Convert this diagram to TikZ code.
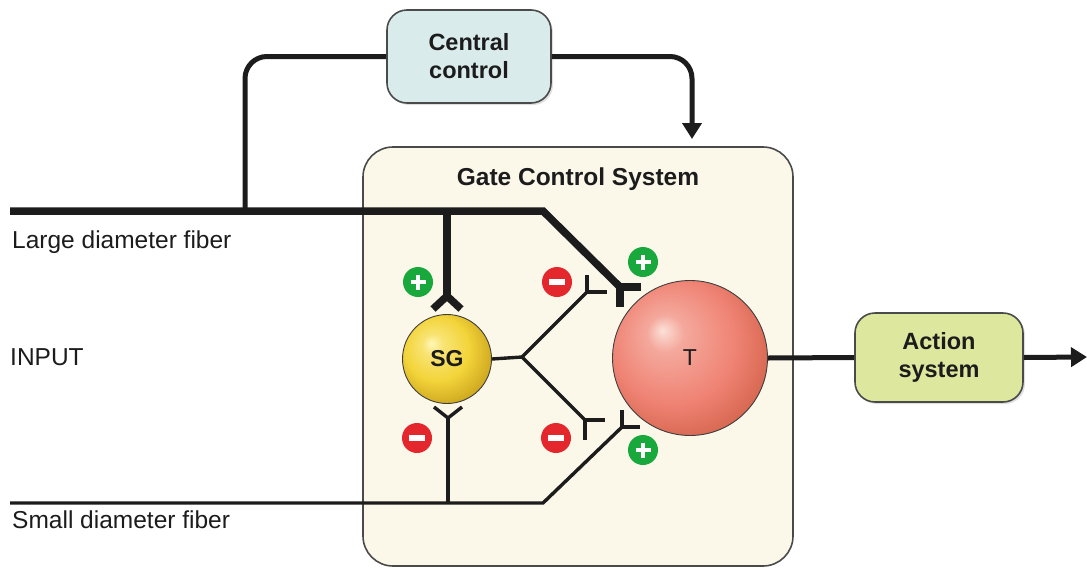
\documentclass[tikz,border=0pt]{standalone}
\usepackage{fontspec}
\setmainfont{Liberation Sans}
\usetikzlibrary{arrows.meta,shadows}

\definecolor{ink}{HTML}{1C1C1C}
\definecolor{frame}{HTML}{4A4A4A}
\definecolor{gatefill}{HTML}{FBF8EA}
\definecolor{ccfill}{HTML}{D9EBEA}
\definecolor{actfill}{HTML}{DDE89E}
\definecolor{excgreen}{HTML}{18A83C}
\definecolor{inhred}{HTML}{E3272C}
\definecolor{sghi}{HTML}{FFF7B8}
\definecolor{sgmid}{HTML}{F3D43A}
\definecolor{sgdark}{HTML}{C49C18}
\definecolor{thi}{HTML}{FCE0D8}
\definecolor{tmid}{HTML}{EF8374}
\definecolor{tdark}{HTML}{CB5A40}

% highlighted spheres for the two cell bodies
\pgfdeclareradialshading{sgball}{\pgfqpoint{-9bp}{9bp}}{%
  color(0bp)=(sghi); color(6bp)=(sghi!45!sgmid); color(18bp)=(sgmid);
  color(33bp)=(sgdark); color(50bp)=(sgdark)}
\pgfdeclareradialshading{tball}{\pgfqpoint{-9bp}{9bp}}{%
  color(0bp)=(thi); color(6bp)=(thi!40!tmid); color(20bp)=(tmid);
  color(35bp)=(tdark); color(50bp)=(tdark)}

\begin{document}
\begin{tikzpicture}[x=1pt,y=-1pt,
  thickfib/.style={draw=ink, line width=7.5pt},
  thinfib/.style={draw=ink, line width=3.4pt},
  ctrl/.style={draw=ink, line width=5pt, rounded corners=22pt},
  tip/.style={-{Triangle[length=16pt,width=19pt]}},
  roundbox/.style={draw=frame, line width=1.6pt, rounded corners=20pt,
    align=center, inner sep=0, text=ink,
    font=\fontsize{23.5}{28}\selectfont\bfseries,
    drop shadow={shadow xshift=2pt, shadow yshift=-2pt, opacity=0.25}},
  lbl/.style={font=\fontsize{24.5}{28}\selectfont, text=ink, inner sep=0, anchor=base west},
  excsign/.style={circle, fill=excgreen, minimum size=30pt, inner sep=0,
    path picture={\draw[white, line width=4.5pt]
      (path picture bounding box.center) +(-7.5,0) -- +(7.5,0)
      (path picture bounding box.center) +(0,-7.5) -- +(0,7.5);}},
  inhsign/.style={circle, fill=inhred, minimum size=30pt, inner sep=0,
    path picture={\draw[white, line width=5.5pt]
      (path picture bounding box.center) +(-8,0) -- +(8,0);}}
]
\useasboundingbox (0,0) rectangle (1087,571);

% gate control box
\node[draw=frame, fill=gatefill, line width=1.6pt, rounded corners=30pt,
      minimum width=430pt, minimum height=419pt, inner sep=0] (gate) at (578,356.5) {};
\node[font=\fontsize{24.5}{28}\selectfont\bfseries, text=ink, inner sep=0, anchor=base]
  (gatetitle) at (578,185) {Gate Control System};

% central control and action system
\node[roundbox, fill=ccfill, minimum width=164pt, minimum height=93pt] (cc) at (469,56.5) {Central\\control};
\node[roundbox, fill=actfill, minimum width=168pt, minimum height=89pt] (act) at (939,357.5) {Action\\system};

% side labels
\node[lbl] (lbllarge) at (12,248) {Large diameter fiber};
\node[lbl] (lblinput) at (10,365) {INPUT};
\node[lbl] (lblsmall) at (12,528) {Small diameter fiber};

% junction points of the fibres
\coordinate (lfin) at (10,211);
\coordinate (cctap) at (245,211);
\coordinate (lftap) at (447,211);
\coordinate (lfbend) at (543,211);
\coordinate (syA) at (620,287);
\coordinate (sgtopj) at (447,296);
\coordinate (sfin) at (10,503);
\coordinate (sftap) at (448,503);
\coordinate (sfbend) at (543,503);
\coordinate (syD) at (622,427);
\coordinate (sgbotj) at (448,418);
\coordinate (sgsplit) at (522,357);
\coordinate (syB) at (587,292);
\coordinate (syC) at (585,420);
\coordinate (ccarrow) at (692,139);
\coordinate (outtip) at (1087,357);

% feedback loop through central control
\draw[ctrl] (cctap) |- (cc.west);
\draw[ctrl, tip] (cc.east) -| (ccarrow);

% large diameter fibre
\draw[thickfib] (lfin) -- (lfbend) -- (syA);
\draw[thickfib] ([xshift=21pt]syA) -- (syA) -- ([yshift=-20pt]syA);
\draw[thickfib] (lftap) -- (sgtopj);
\draw[thickfib] ([xshift=-14pt,yshift=-13pt]sgtopj) -- (sgtopj) -- ([xshift=14pt,yshift=-13pt]sgtopj);

% small diameter fibre
\draw[thinfib] (sfin) -- (sfbend) -- (syD);
\draw[thinfib] ([yshift=17pt]syD) -- (syD) -- ([xshift=18pt]syD);
\draw[thinfib] (sftap) -- (sgbotj);
\draw[thinfib] ([xshift=-14pt,yshift=11pt]sgbotj) -- (sgbotj) -- ([xshift=14pt,yshift=11pt]sgbotj);

% SG cell body and its output to T
\node[circle, draw=ink!85, line width=0.9pt, minimum size=89pt, inner sep=0,
      shade, shading=sgball, text=ink, font=\fontsize{23}{28}\selectfont\bfseries] (sg) at (447,359) {SG};
\draw[thinfib] (sg.east) -- (sgsplit);
\draw[thinfib] (sgsplit) -- (syB);
\draw[thinfib] ([yshift=17pt]syB) -- (syB) -- ([xshift=20pt]syB);
\draw[thinfib] (sgsplit) -- (syC);
\draw[thinfib] ([xshift=20pt]syC) -- (syC) -- ([yshift=-20pt]syC);

% T cell and output
\node[circle, draw=ink!85, line width=0.9pt, minimum size=155pt, inner sep=0,
      shade, shading=tball, text=ink, font=\fontsize{23}{28}\selectfont] (T) at (690,358) {T};
\draw[draw=ink, line width=5pt] (T.east) -- (act.west);
\draw[draw=ink, line width=5pt, tip] (act.east) -- (outtip);

% excitatory and inhibitory signs
\node[excsign] (e1) at (418,282) {};
\node[inhsign] (i1) at (557,282) {};
\node[excsign] (e2) at (643,262) {};
\node[inhsign] (i2) at (417,438) {};
\node[inhsign] (i3) at (556,438) {};
\node[excsign] (e3) at (643,450) {};
\end{tikzpicture}
\end{document}
